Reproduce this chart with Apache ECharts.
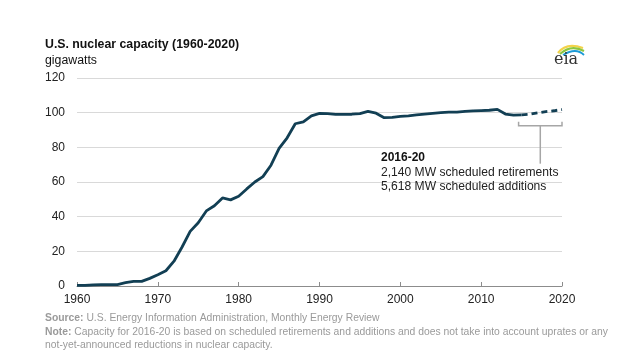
<!DOCTYPE html>
<html><head><meta charset="utf-8">
<script src="https://cdn.jsdelivr.net/npm/echarts@6/dist/echarts.min.js"></script>
<style>html,body{margin:0;padding:0;background:#fff}#c{width:639px;height:364px}</style>
</head><body><div id="c"></div>
<script>
const years = [1960,1961,1962,1963,1964,1965,1966,1967,1968,1969,1970,1971,1972,1973,1974,1975,1976,1977,1978,1979,1980,1981,1982,1983,1984,1985,1986,1987,1988,1989,1990,1991,1992,1993,1994,1995,1996,1997,1998,1999,2000,2001,2002,2003,2004,2005,2006,2007,2008,2009,2010,2011,2012,2013,2014,2015];
const capacity = [0.4,0.4,0.7,0.8,0.8,0.8,1.9,2.7,2.7,4.4,6.5,8.8,14.3,22.5,31.5,36.5,43.3,46.3,50.8,49.7,51.8,56.0,60.0,63.1,69.7,79.4,85.5,93.6,94.7,98.2,99.6,99.4,99.0,99.0,99.1,99.5,100.8,99.7,97.1,97.3,97.9,98.2,98.7,99.2,99.6,100.0,100.3,100.3,100.8,101.0,101.2,101.4,101.9,99.2,98.6,98.7];
const projYears = [2015,2016,2017,2018,2019,2020];
const projected = [98.7,99.1,99.9,100.6,101.1,101.8];
const xTicks = {min:1960, max:2020, interval:10};
const yTicks = {min:0, max:120, interval:20};

const F = 'Arial, "Liberation Sans", sans-serif';
const chart = echarts.init(document.getElementById('c'), null, {renderer:'canvas'});
const lineColor = '#123f54';
chart.setOption({
  animation:false,
  grid:{left:77, right:77, top:78, bottom:78},
  xAxis:{type:'value', min:xTicks.min, max:xTicks.max, interval:xTicks.interval,
    axisLine:{lineStyle:{color:'#8c8c8c', width:1}},
    axisTick:{inside:true, length:4, lineStyle:{color:'#8c8c8c'}},
    axisLabel:{color:'#222', fontSize:12, fontFamily:F, margin:8, formatter:v=>String(v)},
    splitLine:{show:false}},
  yAxis:{type:'value', min:yTicks.min, max:yTicks.max, interval:yTicks.interval,
    axisLine:{show:false}, axisTick:{show:false},
    axisLabel:{color:'#222', fontSize:12, fontFamily:F, margin:12},
    splitLine:{lineStyle:{color:'#d9d9d9', width:1}}},
  series:[
    {type:'line', data:years.map((y,i)=>[y,capacity[i]]), symbol:'none',
     lineStyle:{color:lineColor, width:2.8}, z:3},
    {type:'line', data:projYears.map((y,i)=>[y,projected[i]]), symbol:'none',
     lineStyle:{color:lineColor, width:2.8, type:[6,4]}, z:3}
  ]
});

// annotation bracket positioned via data coordinates
const p1 = chart.convertToPixel({gridIndex:0}, [2015, 0]);
const p2 = chart.convertToPixel({gridIndex:0}, [2020, 0]);
const pb = chart.convertToPixel({gridIndex:0}, [2015, 92.5]);
const x1 = p1[0]-3, x2 = p2[0], by = pb[1], mid = (x1+x2)/2;
const gray = '#a6a6a6';
const foot = '10.35px '+F, footB = 'bold 10.35px '+F;
chart.setOption({
  graphic:[
    {type:'text', left:45, top:39, style:{text:'U.S. nuclear capacity (1960-2020)', font:'bold 12.3px '+F, fill:'#111'}},
    {type:'text', left:45, top:55, style:{text:'gigawatts', font:'12.3px '+F, fill:'#111'}},
    {type:'polyline', shape:{points:[[x1,by-4],[x1,by],[x2,by],[x2,by-4]]}, style:{stroke:gray, lineWidth:1.5, fill:null}},
    {type:'line', shape:{x1:mid, y1:by, x2:mid, y2:by+38}, style:{stroke:gray, lineWidth:1.5}},
    {type:'text', left:381, top:152, style:{text:'2016-20', font:'bold 12px '+F, fill:'#111'}},
    {type:'text', left:381, top:167, style:{text:'2,140 MW scheduled retirements', font:'12.1px '+F, fill:'#222'}},
    {type:'text', left:381, top:181, style:{text:'5,618 MW scheduled additions', font:'12.1px '+F, fill:'#222'}},
    {type:'text', left:45, top:313, style:{rich:{b:{font:footB, fill:'#9a9a9a'}, n:{font:foot, fill:'#9a9a9a'}}, text:'{b|Source:}{n| U.S. Energy Information Administration, Monthly Energy Review}'}},
    {type:'text', left:45, top:327, style:{rich:{b:{font:footB, fill:'#9a9a9a'}, n:{font:foot, fill:'#9a9a9a'}}, text:'{b|Note:}{n| Capacity for 2016-20 is based on scheduled retirements and additions and does not take into account uprates or any}'}},
    {type:'text', left:45, top:340, style:{text:'not-yet-announced reductions in nuclear capacity.', font:foot, fill:'#9a9a9a'}},
    // eia logo
    {type:'bezierCurve', shape:{x1:558,y1:53,x2:583,y2:48,cpx1:566,cpy1:42}, style:{stroke:'#f2d34a', lineWidth:2.2, fill:null}},
    {type:'bezierCurve', shape:{x1:560,y1:54,x2:584,y2:51,cpx1:571,cpy1:44}, style:{stroke:'#8cc63f', lineWidth:2, fill:null}},
    {type:'bezierCurve', shape:{x1:563,y1:55,x2:584,y2:55,cpx1:576,cpy1:47}, style:{stroke:'#1c9ad6', lineWidth:1.8, fill:null}},
    {type:'text', left:554, top:52, style:{text:'eia', font:'16px "DejaVu Serif", "Liberation Serif", serif', fill:'#333'}}
  ]
});
</script></body></html>
